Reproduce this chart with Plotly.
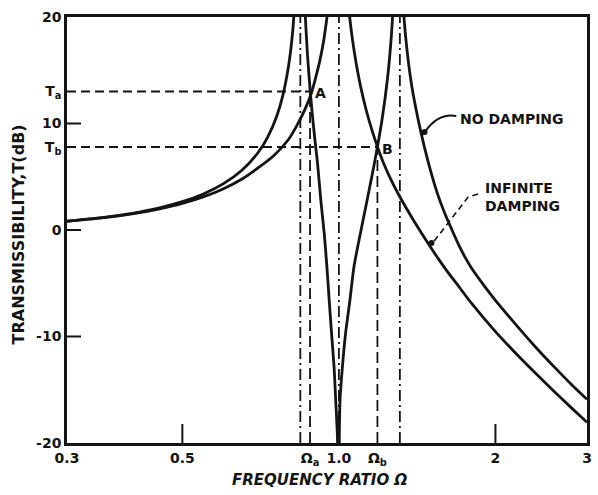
import math
import plotly.graph_objects as go

# ---------------- data ----------------
# No-damping transmissibility curve (dB); None separates branches that leave the plot
nd_omega = [0.30, 0.35, 0.40, 0.45, 0.50, 0.55, 0.60, 0.65, 0.70, 0.73, 0.76, 0.78, 0.80, 0.815, 0.83,
            None,
            0.855, 0.86, 0.87, 0.88, 0.89, 0.90, 0.91, 0.923, 0.937, 0.948, 0.958, 0.968, 0.979, 0.986, 0.993, 1.0,
            1.002, 1.005, 1.0155, 1.03, 1.05, 1.069, 1.10, 1.133, 1.16, 1.186, 1.21, 1.24, 1.26, 1.27, 1.28,
            None,
            1.32, 1.33, 1.35, 1.38, 1.42, 1.46, 1.50, 1.55, 1.60, 1.65, 1.70, 1.75, 1.80, 1.90, 2.0, 2.2, 2.4,
            2.6, 2.8, 3.0]
nd_db = [0.83, 1.16, 1.57, 2.06, 2.66, 3.41, 4.35, 5.58, 7.30, 8.74, 10.73, 12.61, 15.37, 18.65, 24.9,
         None,
         24.1, 20.9, 16.5, 13.25, 10.6, 8.3, 6.2, 2.8, -0.3, -3.4, -6.6, -9.7, -12.9, -16.0, -19.1, -24.0,
         -19.1, -16.0, -12.9, -9.7, -6.6, -3.45, -0.3, 2.8, 5.3, 7.8, 10.3, 14.2, 17.9, 20.5, 24.1,
         None,
         24.3, 20.85, 17.2, 13.6, 10.4, 7.8, 5.6, 3.3, 1.5, 0.0, -1.4, -2.6, -3.6, -5.2, -6.6, -9.0, -11.1,
         -12.9, -14.5, -15.9]

# Infinite-damping transmissibility curve (dB)
inf_omega = [0.30, 0.35, 0.40, 0.45, 0.50, 0.55, 0.60, 0.65, 0.70, 0.75, 0.80, 0.83, 0.86, 0.886, 0.90, 0.92,
             0.935, 0.9487, 0.96,
             None,
             1.04, 1.0488, 1.06, 1.08, 1.10, 1.13, 1.16, 1.186, 1.22, 1.26, 1.30, 1.40, 1.50, 1.60, 1.70, 1.80,
             2.0, 2.2, 2.4, 2.6, 2.8, 3.0]
inf_db = [0.82, 1.14, 1.51, 1.97, 2.50, 3.13, 3.88, 4.77, 5.85, 7.0, 8.5, 9.8, 11.3, 12.9, 14.1, 16.0,
          17.8, 20.0, 22.1,
          None,
          21.8, 20.0, 18.16, 15.58, 13.56, 11.15, 9.23, 7.82, 6.22, 4.7, 3.4, 0.7, -1.6, -3.6, -5.3, -6.9,
          -9.54, -11.69, -13.55, -15.21, -16.70, -18.06]

# Natural / tuning frequencies (dash-dot lines)
res_omega = [0.843, 1.0, 1.31]
# Fixed points A and B
omega_a, T_a = 0.880, 13.0
omega_b, T_b = 1.186, 7.8

x_range = [0.3, 3]
y_range = [-20, 20]
x_tickvals = [0.3, 0.5, omega_a, 1.0, omega_b, 2, 3]
x_ticktext = ["0.3", "0.5", "Ω<sub>a</sub>", "1.0", "Ω<sub>b</sub>", "2", "3"]
x_marks = [0.5, 2]
y_tickvals = [20, T_a, 10, T_b, 0, -10, -20]
y_ticktext = ["20", "T<sub>a</sub>", "10", "T<sub>b</sub>", "0", "-10", "-20"]
y_marks = [10, 0, -10]

# ---------------- figure ----------------
INK = "#141414"
FONT = "DejaVu Sans"

fig = go.Figure()

# dash-dot resonance lines
for w in res_omega:
    fig.add_trace(go.Scatter(x=[w, w], y=y_range, mode="lines",
                             line=dict(color=INK, width=1.8, dash="11px,4px,2px,4px"),
                             hoverinfo="skip", showlegend=False))

# dashed construction lines for fixed points
for w, t in [(omega_a, T_a), (omega_b, T_b)]:
    fig.add_trace(go.Scatter(x=[x_range[0], w], y=[t, t], mode="lines",
                             line=dict(color=INK, width=2, dash="9px,5px"),
                             hoverinfo="skip", showlegend=False))
    fig.add_trace(go.Scatter(x=[w, w], y=[y_range[0], t], mode="lines",
                             line=dict(color=INK, width=1.8, dash="11px,5px"),
                             hoverinfo="skip", showlegend=False))

# curves
fig.add_trace(go.Scatter(x=nd_omega, y=nd_db, mode="lines", connectgaps=False,
                         line=dict(color=INK, width=2.8, shape="spline", smoothing=0.7),
                         name="No damping", showlegend=False))
fig.add_trace(go.Scatter(x=inf_omega, y=inf_db, mode="lines", connectgaps=False,
                         line=dict(color=INK, width=2.8, shape="spline", smoothing=0.7),
                         name="Infinite damping", showlegend=False))

tickfont = dict(family=FONT, size=14, color=INK, weight="bold")

fig.update_layout(
    width=598, height=495,
    margin=dict(l=67, r=6, t=17, b=52),
    paper_bgcolor="white", plot_bgcolor="white",
    xaxis=dict(type="log", range=[math.log10(x_range[0]), math.log10(x_range[1])],
               tickvals=x_tickvals, ticktext=x_ticktext, ticks="", tickfont=tickfont,
               showgrid=False, zeroline=False, showline=True, linecolor=INK, linewidth=2.6,
               mirror=True),
    yaxis=dict(range=y_range, tickvals=y_tickvals, ticktext=y_ticktext, ticks="",
               tickfont=tickfont, showgrid=False, zeroline=False, showline=True,
               linecolor=INK, linewidth=2.6, mirror=True),
)

ann_font = dict(family=FONT, size=14, color=INK, weight="bold")

def px_x(px):
    return (px - 67) / 525.0

def px_y(py):
    return (443 - py) / 426.0

def x_to_paper(v):
    lo, hi = math.log10(x_range[0]), math.log10(x_range[1])
    return (math.log10(v) - lo) / (hi - lo)

annotations = [
    dict(text="A", x=math.log10(omega_a), y=T_a, xref="x", yref="y", xshift=10, yshift=-1,
         showarrow=False, font=ann_font),
    dict(text="B", x=math.log10(omega_b), y=T_b, xref="x", yref="y", xshift=10, yshift=-2,
         showarrow=False, font=ann_font),
    dict(text="NO DAMPING", x=px_x(462), y=px_y(119), xref="paper", yref="paper",
         xanchor="left", yanchor="middle", showarrow=False, font=ann_font),
    dict(text="INFINITE<br>DAMPING", x=px_x(487), y=px_y(197), xref="paper", yref="paper",
         xanchor="left", yanchor="middle", align="left", showarrow=False, font=ann_font),
    dict(text="TRANSMISSIBILITY,T(dB)", x=px_x(18), y=px_y(234), xref="paper", yref="paper",
         textangle=-90, showarrow=False, xanchor="center", yanchor="middle",
         font=dict(family=FONT, size=16, color=INK, weight="bold")),
    dict(text="<i>FREQUENCY RATIO Ω</i>", x=px_x(322), y=px_y(480), xref="paper", yref="paper",
         showarrow=False, xanchor="center", yanchor="middle",
         font=dict(family=FONT, size=15, color=INK, weight="bold")),
]
fig.update_layout(annotations=annotations)

shapes = []
# inner tick marks on the x axis (pixel-length, anchored to the bottom edge)
for v in x_marks:
    shapes.append(dict(type="line", xref="paper", yref="paper", x0=x_to_paper(v), x1=x_to_paper(v),
                       ysizemode="pixel", yanchor=0, y0=0, y1=19,
                       line=dict(color=INK, width=2)))
# inner tick marks on the y axis
for v in y_marks:
    shapes.append(dict(type="line", xref="paper", yref="y", y0=v, y1=v,
                       xsizemode="pixel", xanchor=0, x0=0, x1=14,
                       line=dict(color=INK, width=2)))

shapes += [
    # leader for NO DAMPING
    dict(type="path", xref="paper", yref="paper",
         path=f"M {px_x(460)},{px_y(116)} Q {px_x(442)},{px_y(113)} {px_x(429)},{px_y(131)} L {px_x(425)},{px_y(136)}",
         line=dict(color=INK, width=2)),
    dict(type="circle", xref="paper", yref="paper", x0=px_x(425), x1=px_x(431),
         y0=px_y(135), y1=px_y(129), fillcolor=INK, line=dict(color=INK, width=0)),
    # dashed leader for INFINITE DAMPING
    dict(type="path", xref="paper", yref="paper",
         path=f"M {px_x(482)},{px_y(194)} L {px_x(472)},{px_y(197)} L {px_x(437)},{px_y(242)}",
         line=dict(color=INK, width=1.6, dash="6px,4px")),
    dict(type="circle", xref="paper", yref="paper", x0=px_x(432), x1=px_x(438),
         y0=px_y(246), y1=px_y(240), fillcolor=INK, line=dict(color=INK, width=0)),
]
fig.update_layout(shapes=shapes)

fig.write_html("out.html")
